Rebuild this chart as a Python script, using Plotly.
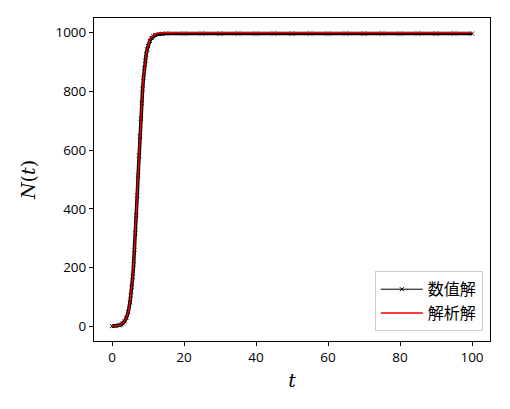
import plotly.graph_objects as go

# 时间点（transition 区域较密）
t_vals = [0, 1, 2, 2.5, 3, 3.5, 4, 4.5, 5, 5.25, 5.5, 5.75, 6, 6.25, 6.5, 6.75,
          7, 7.25, 7.5, 7.75, 8, 8.25, 8.5, 8.75, 9, 9.25, 9.5, 9.75, 10, 10.5,
          11, 11.5, 12, 13, 14, 15, 20, 25, 30, 35, 40, 45, 50, 55, 60, 65, 70,
          75, 80, 85, 90, 95, 100]

# 数值解
n_numeric = [0.4, 1.1, 3.3, 5.7, 9.8, 16.8, 28.7, 48.8, 81.7, 104.8, 133.5, 168.6,
             210.9, 260.2, 316.5, 378.7, 445.2, 513.7, 581.7, 646.8, 706.7, 760.4,
             807.0, 846.2, 878.8, 905.1, 926.2, 942.9, 955.0, 972.0, 982.0, 988.0,
             992.0, 995.0, 996.5, 997.0, 997, 997, 997, 997, 997, 997, 997,
             997, 997, 997, 997, 997, 997, 997, 997, 997, 997]

# 解析解
n_exact = [0.4, 1.1, 3.3, 5.7, 9.8, 16.8, 28.7, 48.8, 81.7, 104.8, 133.5, 168.6,
           210.9, 260.2, 316.5, 378.7, 445.2, 513.7, 581.7, 646.8, 706.7, 760.4,
           807.0, 846.2, 878.8, 905.1, 926.2, 942.9, 956.0, 974.2, 984.9, 991.2,
           994.9, 998.3, 999.4, 999.8, 1000, 1000, 1000, 1000, 1000, 1000, 1000,
           1000, 1000, 1000, 1000, 1000, 1000, 1000, 1000, 1000, 1000]

x_ticks = [0, 20, 40, 60, 80, 100]
y_ticks = [0, 200, 400, 600, 800, 1000]

cjk = "Noto Sans CJK JP"
num_font = "Open Sans"
serif = "DejaVu Serif"

fig = go.Figure()

# 数值解的密集标记带
fig.add_trace(go.Scatter(
    x=t_vals, y=n_numeric, mode="lines",
    line=dict(color="black", width=3.5),
    showlegend=False, hoverinfo="skip"
))

fig.add_trace(go.Scatter(
    x=t_vals, y=n_numeric, mode="lines+markers",
    name="数值解",
    line=dict(color="black", width=1),
    marker=dict(symbol="x-thin", size=4, color="black",
                line=dict(color="black", width=1))
))

fig.add_trace(go.Scatter(
    x=t_vals, y=n_exact, mode="lines",
    name="解析解",
    line=dict(color="red", width=1.3)
))

axis_common = dict(
    showgrid=False, zeroline=False,
    showline=True, linecolor="black", linewidth=1, mirror=True,
    ticks="outside", ticklen=4, tickwidth=1, tickcolor="black",
    tickfont=dict(family=num_font, size=13.5, color="black"),
)

# 页面自带 8px 边距，这里相应缩小
fig.update_layout(
    width=502, height=401,
    margin=dict(l=86, r=20, t=10, b=68),
    paper_bgcolor="white", plot_bgcolor="white",
    xaxis=dict(range=[-5, 105], tickvals=x_ticks,
               title=dict(text="<i>t</i>", font=dict(family=serif, size=19, color="black"),
                          standoff=8),
               **axis_common),
    yaxis=dict(range=[-50, 1050], tickvals=y_ticks,
               title=dict(text="<i>N</i>(<i>t</i>)", font=dict(family=serif, size=19, color="black"),
                          standoff=14),
               **axis_common),
    legend=dict(x=0.982, y=0.03, xanchor="right", yanchor="bottom",
                bgcolor="white", bordercolor="#cccccc", borderwidth=1,
                font=dict(family=cjk, size=16, color="black"),
                itemwidth=42, tracegroupgap=0),
)

fig.write_html("out.html")
